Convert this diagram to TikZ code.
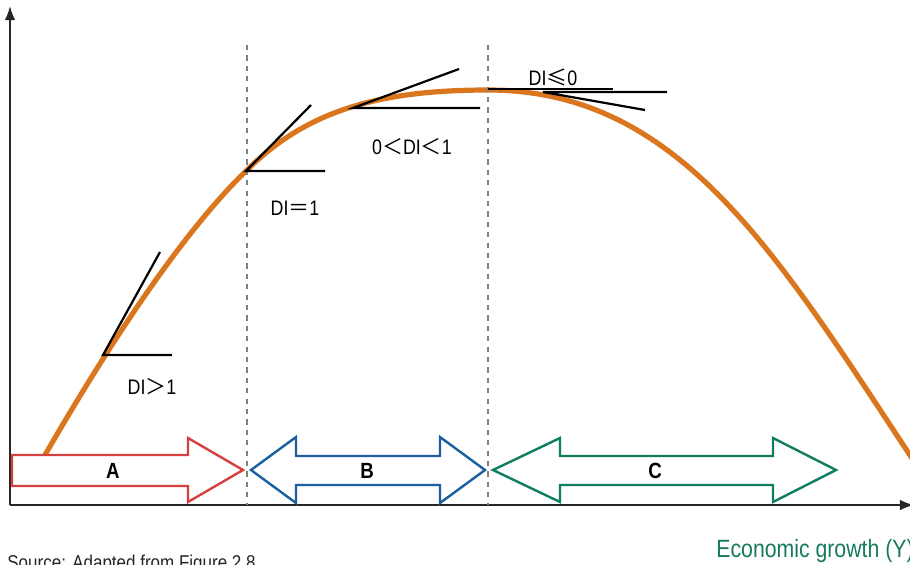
\documentclass[tikz,border=0pt]{standalone}
\usepackage{fontspec}
\setmainfont{Liberation Sans}[FakeStretch=0.85]
\newfontfamily\cjk{Noto Sans CJK SC}
\usetikzlibrary{arrows.meta}
\definecolor{curveorange}{RGB}{217,118,30}
\definecolor{zoneA}{RGB}{214,64,62}
\definecolor{zoneB}{RGB}{28,94,160}
\definecolor{zoneC}{RGB}{14,126,98}
\definecolor{axisgreen}{RGB}{22,122,94}

\begin{document}
\begin{tikzpicture}[x=0.5pt,y=-0.5pt,>=Latex,
 axis/.style={line width=0.9pt,black!85},
 guide/.style={gray,dash pattern=on 2.6pt off 2.6pt,line width=0.8pt},
 curve/.style={curveorange,line width=2.6pt},
 tangent/.style={line width=1.1pt},
 zone/.style={fill=white,line width=1.2pt,line join=miter},
 lbl/.style={font=\fontsize{10.5}{12}\selectfont,inner sep=0pt},
 zlbl/.style={font=\fontsize{11}{12}\selectfont\bfseries,inner sep=0pt}]
\useasboundingbox (0,0) rectangle (910,564);

% axes
\coordinate (o) at (10,505);
\coordinate (ytop) at (10,6);
\coordinate (xend) at (914,505);
\draw[axis,->] (o) -- (ytop);
\draw[axis,->] (o) -- (xend);

% points where the tangents touch
\coordinate (t0) at (45,455);
\coordinate (t1) at (103,355);
\coordinate (t2) at (246,171);
\coordinate (t3) at (353,108);
\coordinate (t4) at (488,90);
\coordinate (tend) at (935,493);

\draw[curve] (t0) .. controls (120,325) and (190,225) .. (t2)
 .. controls (306,111) and (378,90) .. (t4)
 .. controls (688,90) and (785,268) .. (tend);

% phase borders
\draw[guide] (247,45) -- (247,505);
\draw[guide] (488,45) -- (488,505);

% tangents
\coordinate (t1a) at (160,252);
\coordinate (t1b) at (172,355);
\coordinate (t2a) at (311,105);
\coordinate (t2b) at (325,171);
\coordinate (t3a) at (459,69);
\coordinate (t3b) at (480,108);
\coordinate (t4b) at (613,89);
\coordinate (t5) at (543,92);
\coordinate (t5a) at (667,92);
\coordinate (t5b) at (645,110);
\draw[tangent] (t1a) -- (t1) -- (t1b);
\draw[tangent] (t2a) -- (t2) -- (t2b);
\draw[tangent] (t3a) -- (t3) -- (t3b);
\draw[tangent] (488,89) -- (t4b);
\draw[tangent] (t5a) -- (t5) -- (t5b);

\node[lbl] (di1) at (152,387) {DI{\cjk ＞}1};
\node[lbl] (di2) at (295,208) {DI{\cjk ＝}1};
\node[lbl] (di3) at (412,147) {0{\cjk ＜}DI{\cjk ＜}1};
\node[lbl] (di4) at (553,77) {DI{\cjk ≤}0};

% phases
\draw[zone,draw=zoneA] (12,455) -- (188,455) -- (188,438) -- (243,470) -- (188,502) -- (188,486) -- (12,486) -- cycle;
\draw[zone,draw=zoneB] (251,470) -- (296,437) -- (296,456) -- (440,456) -- (440,437) -- (485,470)
 -- (440,503) -- (440,485) -- (296,485) -- (296,503) -- cycle;
\draw[zone,draw=zoneC] (493,470) -- (560,438) -- (560,456) -- (773,456) -- (773,438) -- (836,470)
 -- (773,502) -- (773,485) -- (560,485) -- (560,502) -- cycle;
\node[zlbl] (a) at (113,471) {A};
\node[zlbl] (b) at (367,471) {B};
\node[zlbl] (c) at (655,471) {C};

\node[anchor=base west,inner sep=0pt,axisgreen,font=\fontsize{12.5}{14}\selectfont] (xlab) at (716,557) {Economic growth (Y)};
\node[anchor=base west,inner sep=0pt,black!85,font=\fontsize{10}{12}\selectfont] (src) at (7,569) {Source: Adapted from Figure 2.8};
\end{tikzpicture}
\end{document}
